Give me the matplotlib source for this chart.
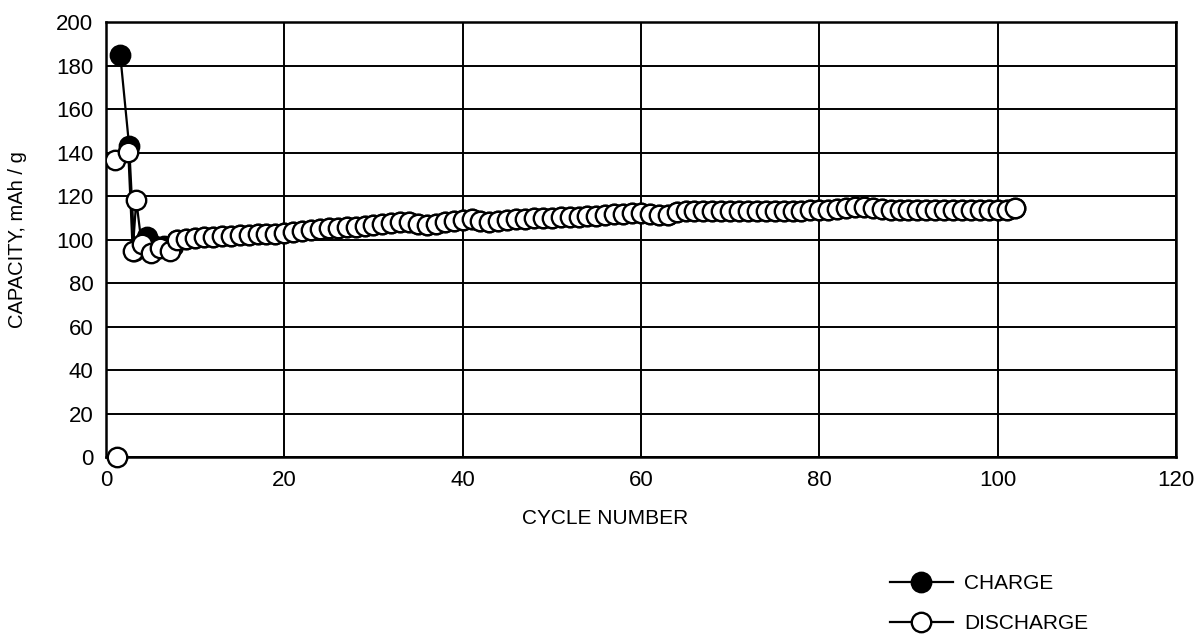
import numpy as np
import matplotlib
matplotlib.use("Agg")
import matplotlib.pyplot as plt
from matplotlib.lines import Line2D

plt.rcParams['font.family'] = ['Liberation Sans', 'DejaVu Sans']

# ---- data ----
charge_cycle = [1.6, 2.6, 3.2, 4.6, 5.5, 6.5, 7.5]
charge_cap = [185, 143, 95, 101, 97, 97, 97]

discharge_first_cycle = [1.2]
discharge_first_cap = [0]

discharge_early_cycle = [1.0, 2.5, 3.0, 3.4, 4.0, 5.1, 6.1, 7.2]
discharge_early_cap = [136.5, 140.4, 95, 118, 98, 94, 96, 95]

discharge_cycle = list(range(8, 103))
discharge_cap = [
    100.0, 100.5, 100.8, 101.0, 101.3, 101.5, 101.8, 102.0, 102.2, 102.4,   # 8-17
    102.6, 102.8, 102.9, 103.3, 103.8, 104.3, 104.8, 105.2, 105.4, 105.6,   # 18-27
    106.0, 106.4, 106.8, 107.2, 107.6, 108.0, 108.3, 107.3, 106.9, 107.3,   # 28-37
    108.0, 108.6, 109.2, 109.3, 108.8, 108.3, 108.6, 109.0, 109.3, 109.6,   # 38-47
    109.8, 110.0, 110.1, 110.3, 110.5, 110.6, 110.8, 111.0, 111.4, 111.7,   # 48-57
    112.0, 112.3, 112.4, 112.0, 111.5, 111.2, 112.5, 113.0, 113.2, 113.3,   # 58-67
    113.3, 113.3, 113.3, 113.3, 113.3, 113.3, 113.3, 113.3, 113.3, 113.3,   # 68-77
    113.3, 113.6, 113.8, 113.8, 114.0, 114.4, 114.9, 115.0, 114.6, 114.0,   # 78-87
    113.8, 113.8, 113.8, 113.8, 113.8, 113.8, 113.8, 113.8, 113.8, 113.8,   # 88-97
    113.8, 113.8, 113.8, 113.8, 114.4,                                      # 98-102
]

x_ticks = [0, 20, 40, 60, 80, 100, 120]
y_ticks = [0, 20, 40, 60, 80, 100, 120, 140, 160, 180, 200]

# ---- figure ----
fig = plt.figure(figsize=(12, 6.37), dpi=100)
ax = fig.add_axes([0.0883, 0.282, 0.8917, 0.6835])

ms = 14
mew = 1.7
lw = 1.6

# charge continues under the discharge markers
ch_x = charge_cycle + discharge_cycle
ch_y = charge_cap + discharge_cap
ax.plot(ch_x, ch_y, color='black', lw=lw, marker='o', ms=ms,
        mfc='black', mec='black', mew=mew, zorder=3)

dis_x = discharge_early_cycle + discharge_cycle
dis_y = discharge_early_cap + discharge_cap
ax.plot(dis_x, dis_y, color='black', lw=lw, marker='o', ms=ms,
        mfc='white', mec='black', mew=mew, zorder=4)
ax.plot(discharge_first_cycle, discharge_first_cap, ls='none', marker='o',
        ms=ms, mfc='white', mec='black', mew=mew, zorder=4, clip_on=False)

ax.set_xlim(0, 120)
ax.set_ylim(0, 200)
ax.set_xticks(x_ticks)
ax.set_yticks(y_ticks)
ax.grid(True, color='black', lw=1.4)
ax.set_axisbelow(True)
for s in ax.spines.values():
    s.set_linewidth(1.8)
ax.tick_params(length=0, labelsize=16, pad=9)
ax.tick_params(axis='y', pad=9)

ax.set_ylabel('CAPACITY, mAh / g', fontsize=14.5)
ax.yaxis.set_label_coords(-0.074, 0.5)
fig.text(605 / 1200, 1 - 519 / 637, 'CYCLE NUMBER', ha='center', va='center', fontsize=15)

handles = [
    Line2D([], [], color='black', lw=lw, marker='o', ms=ms, mfc='black', mec='black', mew=mew),
    Line2D([], [], color='black', lw=lw, marker='o', ms=ms, mfc='white', mec='black', mew=mew),
]
fig.legend(handles, ['CHARGE', 'DISCHARGE'], loc='upper left',
           bbox_to_anchor=(890 / 1200, 1 - 574 / 637), frameon=False,
           fontsize=15, handlelength=3.0, handletextpad=0.55, labelspacing=1.0,
           borderaxespad=0, borderpad=0)

fig.savefig('out.png', dpi=100)
